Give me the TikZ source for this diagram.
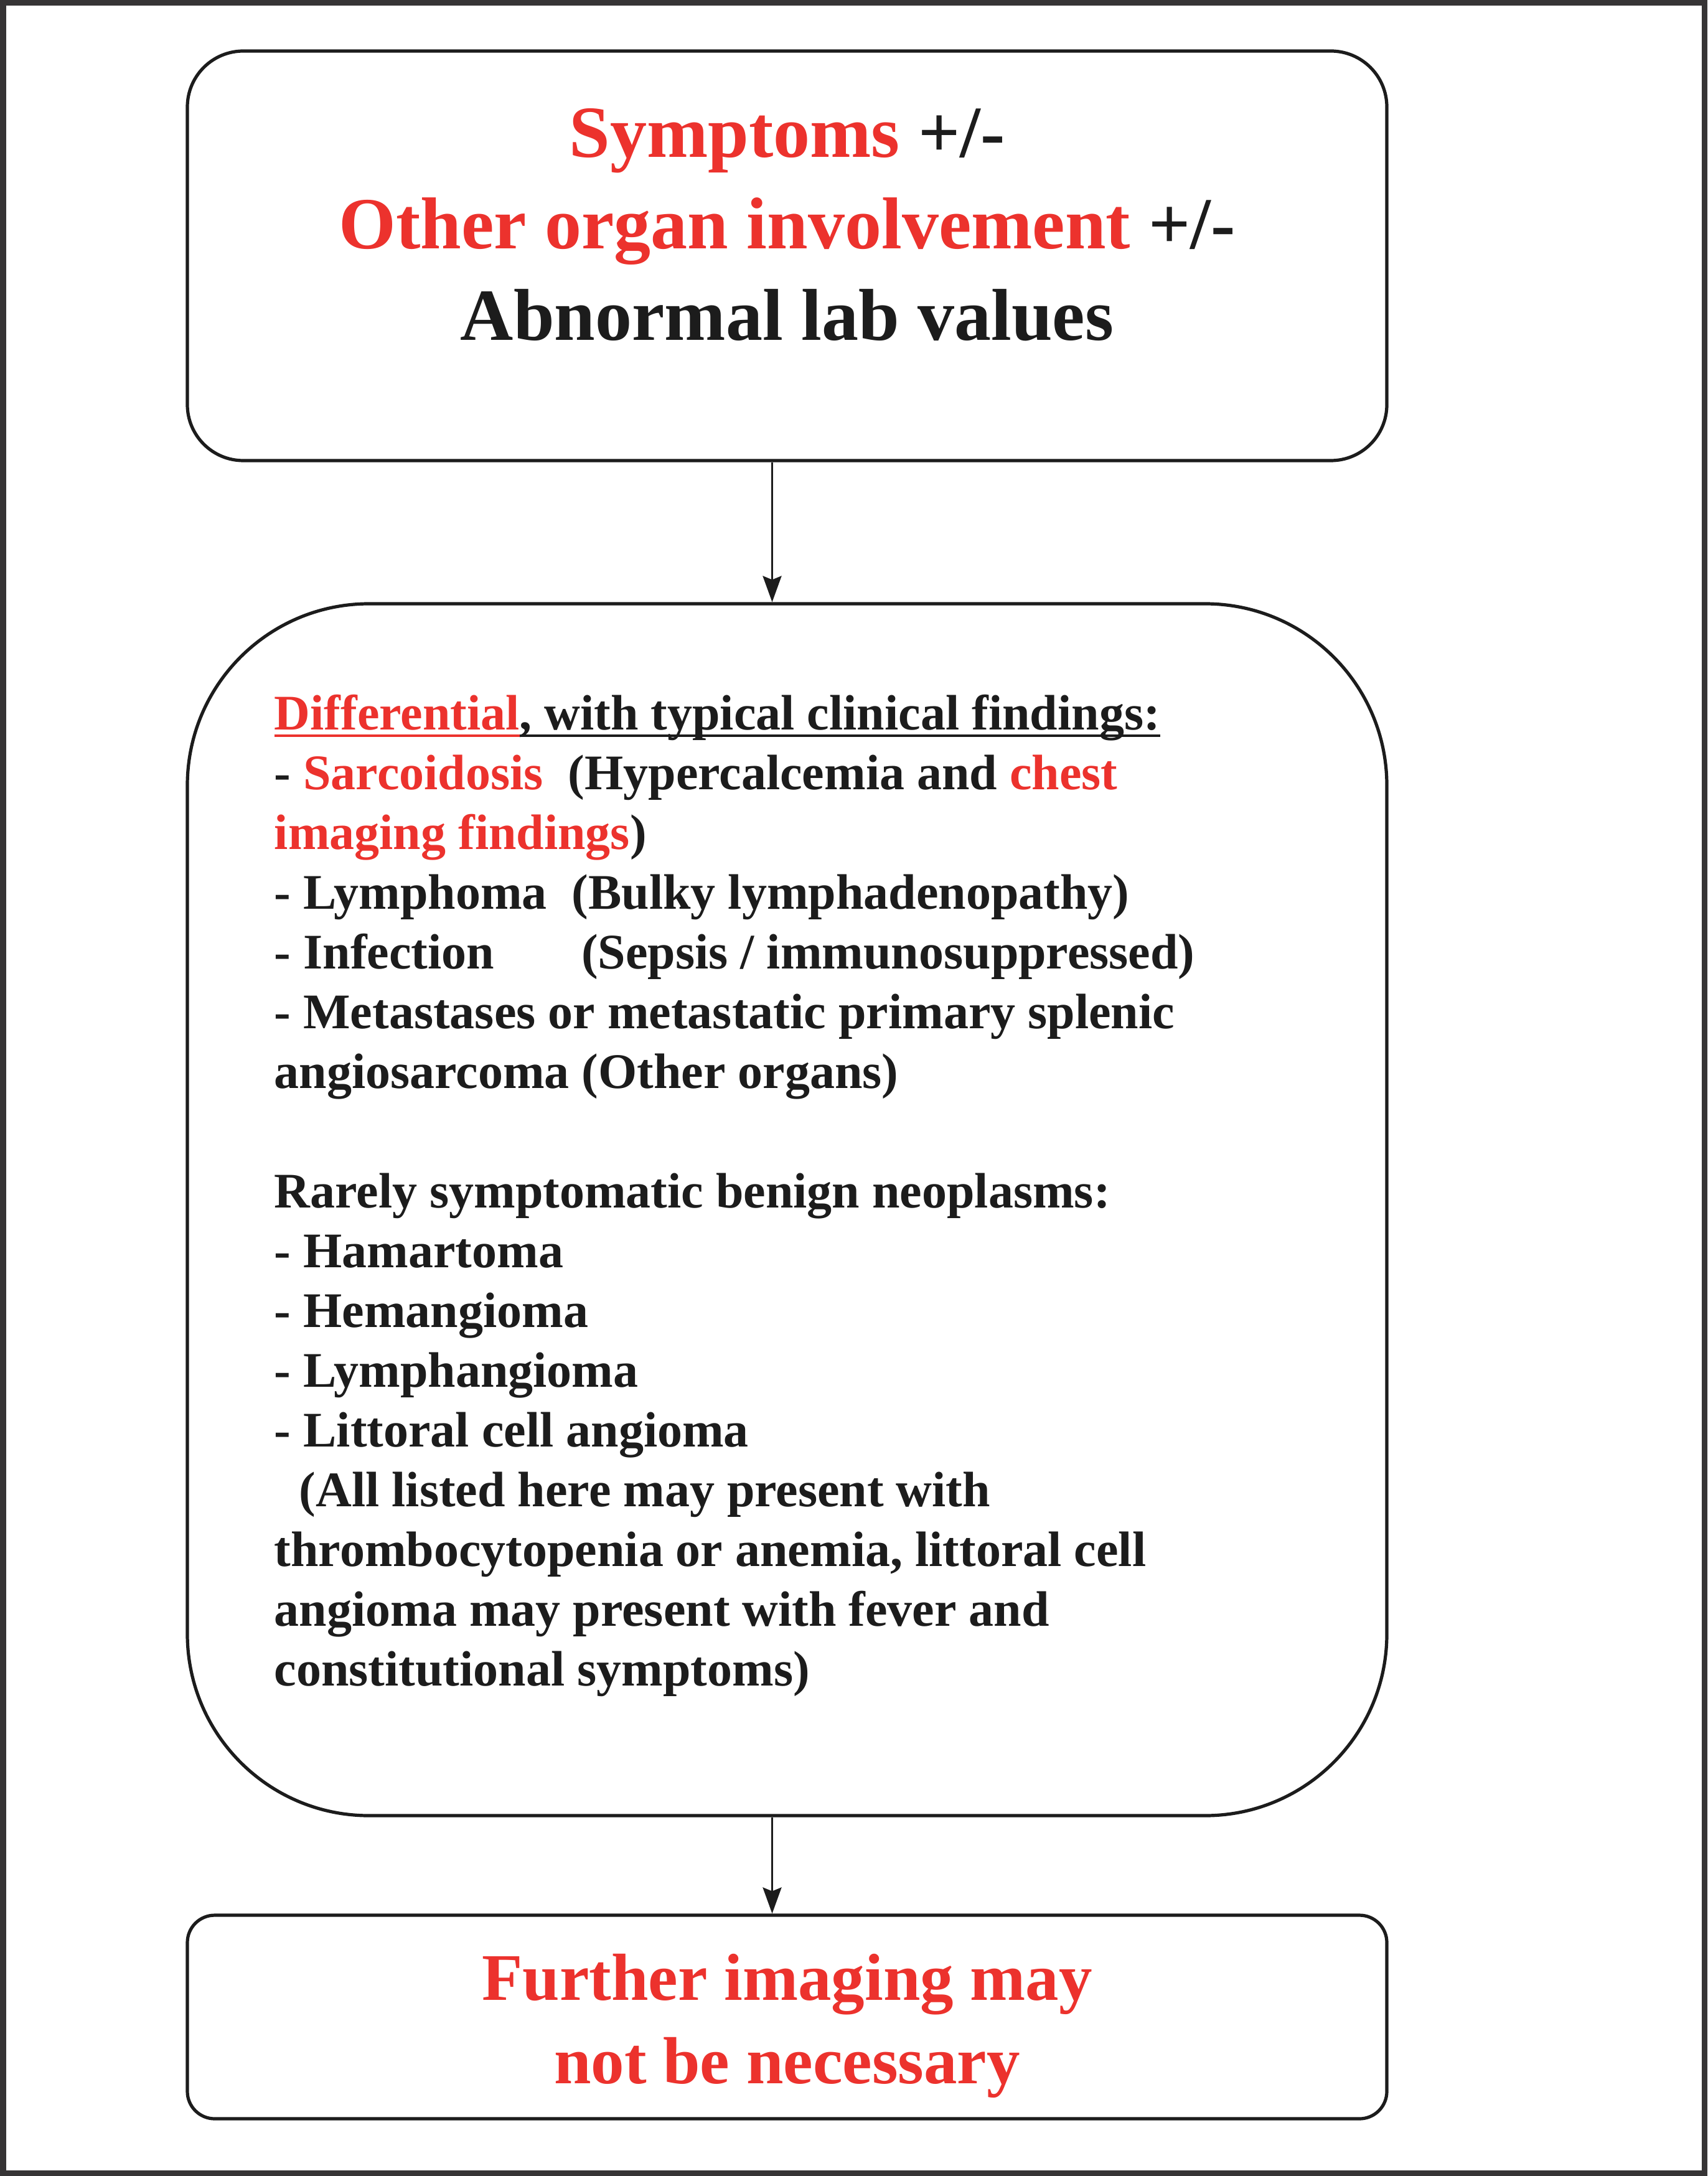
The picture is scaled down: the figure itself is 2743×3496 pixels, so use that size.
\documentclass[tikz,border=0pt]{standalone}
\usepackage{fontspec}
\setmainfont{Liberation Serif}
\usetikzlibrary{arrows.meta}
\definecolor{redtxt}{RGB}{236,50,45}
\definecolor{darktxt}{RGB}{28,28,28}
\definecolor{framec}{RGB}{54,52,53}
\newcommand\ulc[2]{\setbox0\hbox{#2}\rlap{\color{#1}\rule[-3pt]{\wd0}{1pt}}\box0}
\begin{document}
\begin{tikzpicture}[x=0.25pt,y=-0.25pt,
  box/.style={draw=darktxt, line width=1.3pt, fill=white, inner sep=0pt, minimum width=481.75pt},
  arr/.style={draw=darktxt, line width=0.85pt, -{Stealth[length=10.5pt,width=7.5pt,inset=1.5pt]}},
  txt/.style={inner sep=0pt, text=darktxt}]
\fill[framec] (0,0) rectangle (2743,3496);
\fill[white] (10,9) rectangle (2734,3487);
\useasboundingbox (0,0) rectangle (2743,3496);

\node[box, minimum height=164.5pt, rounded corners=22.5pt] (top) at (1264.5,411) {};
\node[box, minimum height=486.75pt, rounded corners=73pt] (mid) at (1264.5,1943.5) {};
\node[box, minimum height=81.75pt, rounded corners=11pt] (bot) at (1264.5,3240.5) {};

\node[txt, anchor=base, font=\bfseries\fontsize{29.5}{36.75}\selectfont] (toptext) at (1264.5,253)
  {\begin{tabular}[t]{@{}c@{}}\textcolor{redtxt}{Symptoms} +/-\\
  \textcolor{redtxt}{Other organ involvement} +/-\\
  Abnormal lab values\end{tabular}};

\node[txt, anchor=base west, font=\bfseries\fontsize{20}{24}\selectfont] (midtext) at (440,1172)
  {\begin{tabular}[t]{@{}l@{}}\ulc{redtxt}{\textcolor{redtxt}{Differential}}\ulc{darktxt}{, with typical clinical findings:}\\
  - \textcolor{redtxt}{Sarcoidosis}~~(Hypercalcemia and \textcolor{redtxt}{chest}\\
  \textcolor{redtxt}{imaging findings})\\
  - Lymphoma~~(Bulky lymphadenopathy)\\
  - Infection\hspace{35pt}(Sepsis / immunosuppressed)\\
  - Metastases or metastatic primary splenic\\
  angiosarcoma (Other organs)\\
  \\
  Rarely symptomatic benign neoplasms:\\
  - Hamartoma\\
  - Hemangioma\\
  - Lymphangioma\\
  - Littoral cell angioma\\
  \hspace*{10pt}(All listed here may present with\\
  thrombocytopenia or anemia, littoral cell\\
  angioma may present with fever and\\
  constitutional symptoms)\end{tabular}};

\node[txt, anchor=base, text=redtxt, font=\bfseries\fontsize{26.75}{33.5}\selectfont] (bottext) at (1264.5,3213)
  {\begin{tabular}[t]{@{}c@{}}Further imaging may\\ not be necessary\end{tabular}};

\draw[arr] ([xshift=-6pt]top.south) -- ([xshift=-6pt]mid.north);
\draw[arr] ([xshift=-6pt]mid.south) -- ([xshift=-6pt]bot.north);
\end{tikzpicture}
\end{document}
